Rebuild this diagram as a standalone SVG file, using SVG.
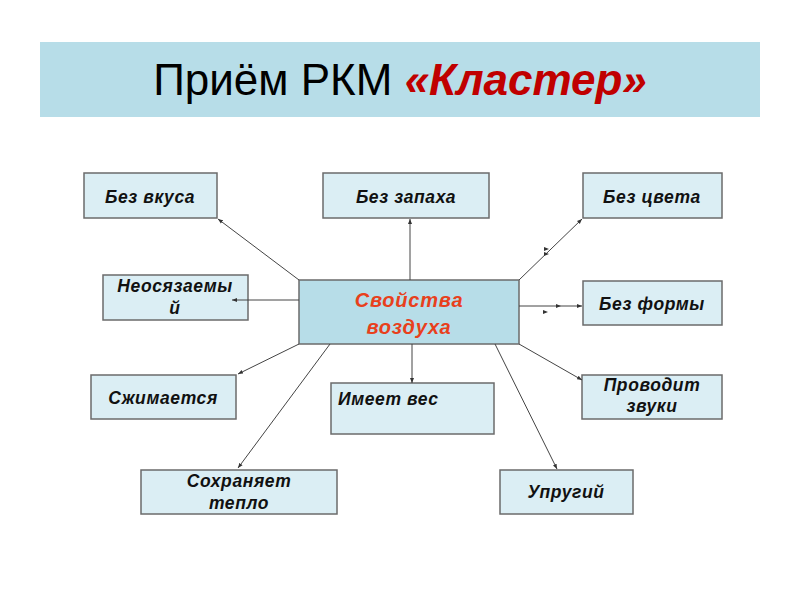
<svg xmlns="http://www.w3.org/2000/svg" width="800" height="600" viewBox="0 0 800 600">
<defs>
<style>
.box{fill:#dbeef4;stroke:#6b6b6b;stroke-width:1.5}
.center{fill:#b7dde8;stroke:#6b6b6b;stroke-width:1.5}
.t{font-family:"Liberation Sans",Arial,sans-serif;font-weight:bold;font-style:italic;font-size:17.5px;letter-spacing:0.6px;fill:#111;text-anchor:middle}
.ts{text-anchor:start}
.ct{font-family:"Liberation Sans",Arial,sans-serif;font-weight:bold;font-style:italic;font-size:20px;letter-spacing:0.8px;fill:#e8401c;text-anchor:middle}
.ln{stroke:#444;stroke-width:1;fill:none;marker-end:url(#ah)}
.tick{fill:#333}
</style>
<marker id="ah" viewBox="0 0 10 10" refX="10" refY="5" markerWidth="5" markerHeight="5" orient="auto" markerUnits="userSpaceOnUse">
<path d="M0,1 L10,5 L0,9 Z" fill="#333"/>
</marker>
</defs>
<rect x="0" y="0" width="800" height="600" fill="#ffffff"/>
<g id="title">
<rect x="40" y="42" width="720" height="75" fill="#b7dde8"/>
<text x="400" y="95" text-anchor="middle" font-family="'Liberation Sans',Arial,sans-serif" font-size="44" fill="#000">Приём РКМ <tspan font-weight="bold" font-style="italic" fill="#c00000">«Кластер»</tspan></text>
</g>
<g id="n-bez-vkusa"><rect class="box" x="84" y="173" width="133" height="45"/><text class="t" x="150" y="203">Без вкуса</text></g>
<g id="n-bez-zapaha"><rect class="box" x="323" y="173" width="166" height="45"/><text class="t" x="406" y="203">Без запаха</text></g>
<g id="n-bez-cveta"><rect class="box" x="583" y="173" width="139" height="45"/><text class="t" x="652" y="203">Без цвета</text></g>
<g id="n-neosyazaemyi"><rect class="box" x="103" y="275" width="145" height="45"/><text class="t" x="175" y="292">Неосязаемы</text><text class="t" x="175" y="314">й</text></g>
<g id="n-center"><rect class="center" x="299" y="280" width="220" height="64"/><text class="ct" x="409" y="307">Свойства</text><text class="ct" x="409" y="334">воздуха</text></g>
<g id="n-bez-formy"><rect class="box" x="583" y="281" width="139" height="44"/><text class="t" x="652" y="310">Без формы</text></g>
<g id="n-szhimaetsya"><rect class="box" x="91" y="375" width="145" height="44"/><text class="t" x="163" y="404">Сжимается</text></g>
<g id="n-imeet-ves"><rect class="box" x="331" y="383" width="163" height="51"/><text class="t ts" x="338" y="405">Имеет вес</text></g>
<g id="n-provodit-zvuki"><rect class="box" x="582" y="375" width="140" height="44"/><text class="t" x="652" y="391">Проводит</text><text class="t" x="652" y="412">звуки</text></g>
<g id="n-sohranyaet-teplo"><rect class="box" x="141" y="470" width="196" height="44"/><text class="t" x="239" y="487">Сохраняет</text><text class="t" x="239" y="509">тепло</text></g>
<g id="n-uprugii"><rect class="box" x="500" y="470" width="133" height="44"/><text class="t" x="566" y="498">Упругий</text></g>
<g id="connectors">
<line class="ln" x1="299" y1="280" x2="218" y2="219"/>
<line class="ln" x1="410" y1="280" x2="410" y2="219"/>
<line class="ln" x1="519" y1="280" x2="582" y2="219"/>
<line class="ln" x1="299" y1="300" x2="232" y2="300"/>
<line class="ln" x1="519" y1="306" x2="582" y2="306"/>
<line class="ln" x1="299" y1="344" x2="238" y2="374"/>
<line class="ln" x1="330" y1="344" x2="238" y2="468"/>
<line class="ln" x1="412" y1="344" x2="412" y2="383"/>
<line class="ln" x1="495" y1="344" x2="557" y2="469"/>
<line class="ln" x1="519" y1="344" x2="582" y2="380"/>
<path class="tick" d="M544,247 L549,249 L544,251 Z"/>
<path class="tick" d="M544,252 L549,254 L544,256 Z"/>
<path class="tick" d="M556,304 L561,306 L556,308 Z"/>
<path class="tick" d="M543,310 L548,312 L543,314 Z"/>
</g>
</svg>
